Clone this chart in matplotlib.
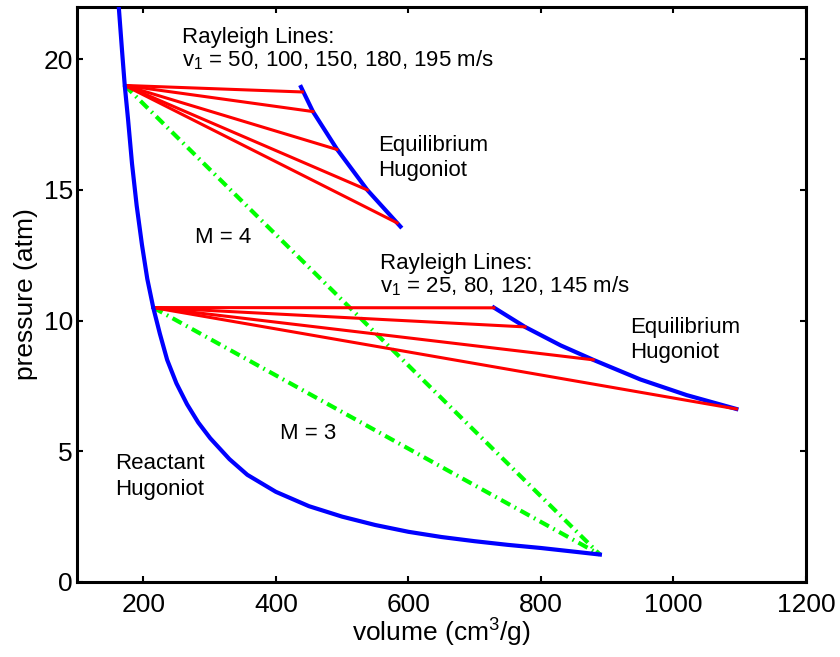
import numpy as np
import matplotlib
matplotlib.use('Agg')
import matplotlib.pyplot as plt

# Reactant Hugoniot (volume cm^3/g, pressure atm)
reactant_v = [163, 168, 172, 177, 183, 190, 198, 206, 215, 225, 236, 250, 266, 283, 301,
              330, 357, 400, 450, 500, 550, 600, 650, 700, 750, 800, 850, 889]
reactant_p = [22.0, 20.3, 19.0, 17.7, 16.0, 14.4, 12.9, 11.6, 10.5, 9.5, 8.5, 7.6, 6.8, 6.1, 5.5,
              4.7, 4.1, 3.45, 2.9, 2.5, 2.18, 1.92, 1.72, 1.56, 1.42, 1.3, 1.16, 1.05]

# Upper equilibrium Hugoniot and Rayleigh lines (v1 = 50..195 m/s)
eq_upper_v = [438, 456, 492, 538, 588]
eq_upper_p = [18.94, 18.0, 16.57, 15.0, 13.6]
ray_upper_start = (172, 19.0)
ray_upper_end_v = [440, 456, 492, 538, 583]
ray_upper_end_p = [18.75, 18.0, 16.55, 15.0, 13.74]

# Lower equilibrium Hugoniot and Rayleigh lines (v1 = 25..145 m/s)
eq_lower_v = [729, 776, 830, 879, 950, 1020, 1095]
eq_lower_p = [10.5, 9.76, 9.05, 8.5, 7.75, 7.15, 6.62]
ray_lower_start = (215, 10.5)
ray_lower_end_v = [729, 776, 879, 1095]
ray_lower_end_p = [10.49, 9.76, 8.5, 6.62]

# Mach lines to the initial state
initial_state = (889, 1.05)

plt.rcParams['font.family'] = ['Liberation Sans', 'DejaVu Sans']
plt.rcParams['mathtext.default'] = 'regular'

fig = plt.figure(figsize=(8.4, 6.57), dpi=100)
ax = fig.add_axes([0.0917, 0.1142, 0.8678, 0.8751])

green_style = (0, (2.5, 1.2, 0.4, 1.2))
for start in (ray_upper_start, ray_lower_start):
    ax.plot([start[0], initial_state[0]], [start[1], initial_state[1]],
            color='#00ff00', lw=3, linestyle=green_style, zorder=2)

for v, p in zip(ray_upper_end_v, ray_upper_end_p):
    ax.plot([ray_upper_start[0], v], [ray_upper_start[1], p], color='#ff0000', lw=2.2, zorder=3)
for v, p in zip(ray_lower_end_v, ray_lower_end_p):
    ax.plot([ray_lower_start[0], v], [ray_lower_start[1], p], color='#ff0000', lw=2.2, zorder=3)

ax.plot(reactant_v, reactant_p, color='#0000ff', lw=3, zorder=4)
ax.plot(eq_upper_v, eq_upper_p, color='#0000ff', lw=3, zorder=2.5)
ax.plot(eq_lower_v, eq_lower_p, color='#0000ff', lw=3, zorder=2.5)

tfs = 16
labels = [
    (258, 20.82, 'Rayleigh Lines:'),
    (258, 19.95, '$v_1$ = 50, 100, 150, 180, 195 m/s'),
    (554, 16.7, 'Equilibrium'),
    (554, 15.75, 'Hugoniot'),
    (278, 13.2, 'M = 4'),
    (557, 12.2, 'Rayleigh Lines:'),
    (557, 11.33, '$v_1$ = 25, 80, 120, 145 m/s'),
    (935, 9.72, 'Equilibrium'),
    (935, 8.77, 'Hugoniot'),
    (406, 5.7, 'M = 3'),
    (157, 4.55, 'Reactant'),
    (157, 3.55, 'Hugoniot'),
]
for x, y, s in labels:
    ax.text(x, y, s, fontsize=tfs, va='center', ha='left')

ax.set_xlim(100, 1200)
ax.set_ylim(0, 22)
ax.set_xticks([200, 400, 600, 800, 1000, 1200])
ax.set_yticks([0, 5, 10, 15, 20])
ax.tick_params(direction='in', length=4, width=1.5, labelsize=19,
               top=True, right=True)
ax.tick_params(axis='x', pad=8)
ax.tick_params(axis='y', pad=3)
for s in ax.spines.values():
    s.set_linewidth(2.2)

ax.set_xlabel('volume (cm$^3$/g)', fontsize=19, labelpad=0)
ax.set_ylabel('pressure (atm)', fontsize=19, labelpad=4)

fig.savefig('out.png', dpi=100)
